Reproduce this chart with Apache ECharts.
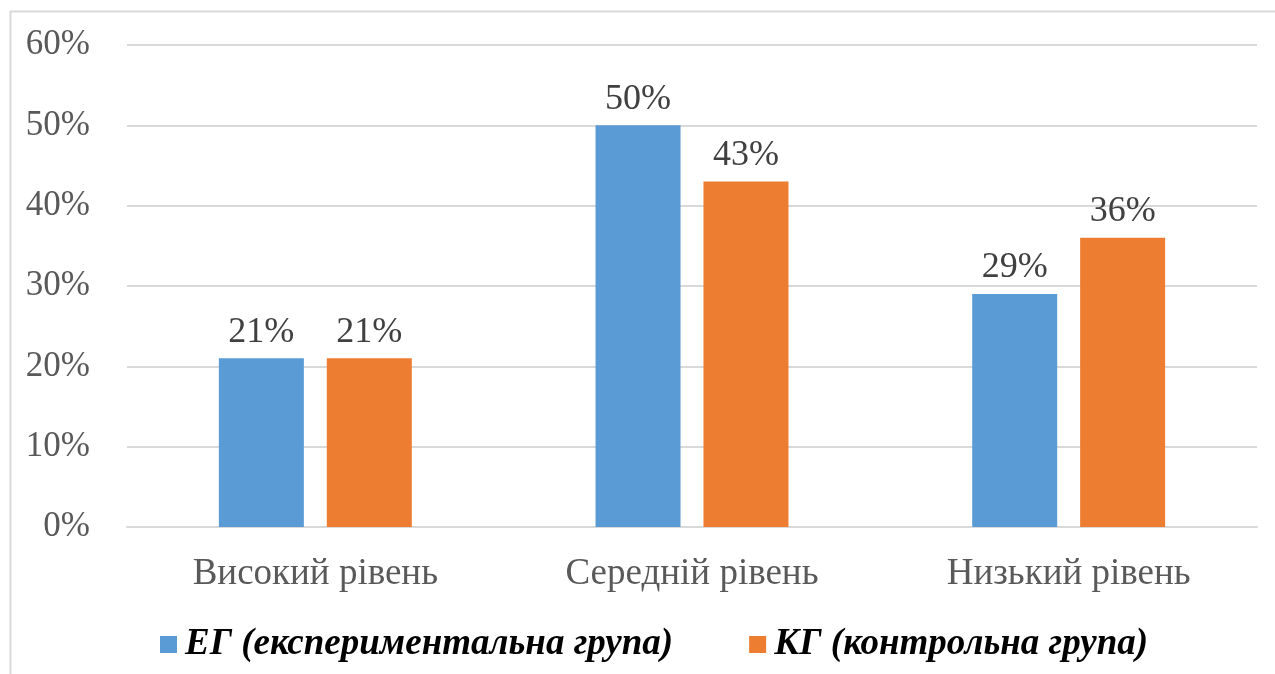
<!DOCTYPE html>
<html>
<head>
<meta charset="utf-8">
<script src="https://cdn.jsdelivr.net/npm/echarts@6/dist/echarts.min.js"></script>
<style>
  html, body { margin: 0; padding: 0; background: #fff; }
  #chart { width: 1275px; height: 674px; }
</style>
</head>
<body>
<div id="chart"></div>
<script>
// дані з діаграми
var categories = ["Високий рівень", "Середній рівень", "Низький рівень"];
var seriesNames = ["ЕГ (експериментальна група)", "КГ (контрольна група)"];
var egValues = [21, 50, 29];
var kgValues = [21, 43, 36];
var yTicks = [0, 10, 20, 30, 40, 50, 60];

var FONT = "'Liberation Serif', 'Times New Roman', serif";

var myChart = echarts.init(document.getElementById("chart"));
var option = {
  backgroundColor: "#fff",
  color: ["#5b9bd5", "#ed7d31"],
  graphic: [
    {
      type: "rect",
      left: 8,
      top: 9,
      shape: { width: 1400, height: 800 },
      style: { fill: "none", stroke: "#d9d9d9", lineWidth: 2 },
      silent: true
    }
  ],
  grid: { left: 127, right: 18, top: 45, bottom: 147 },
  legend: {
    data: seriesNames,
    left: 155,
    top: 621,
    itemWidth: 17,
    itemHeight: 17,
    itemGap: 76,
    icon: "rect",
    textStyle: {
      fontFamily: FONT,
      fontSize: 37,
      fontStyle: "italic",
      fontWeight: "bold",
      color: "#000",
      padding: [0, 0, 0, 3]
    }
  },
  xAxis: {
    type: "category",
    data: categories,
    axisLine: { lineStyle: { color: "#d9d9d9", width: 2 } },
    axisTick: { show: false },
    axisLabel: {
      fontFamily: FONT,
      fontSize: 37,
      color: "#595959",
      margin: 29
    }
  },
  yAxis: {
    type: "value",
    min: yTicks[0],
    max: yTicks[yTicks.length - 1],
    interval: 10,
    axisLine: { show: false },
    axisTick: { show: false },
    splitLine: { lineStyle: { color: "#d9d9d9", width: 2 } },
    axisLabel: {
      fontFamily: FONT,
      fontSize: 35,
      color: "#595959",
      margin: 37,
      formatter: "{value}%"
    }
  },
  series: [
    {
      name: seriesNames[0],
      type: "bar",
      data: egValues,
      barWidth: 85,
      barGap: "27%",
      label: {
        show: true,
        position: "top",
        distance: 8,
        formatter: "{c}%",
        fontFamily: FONT,
        fontSize: 36,
        color: "#404040"
      }
    },
    {
      name: seriesNames[1],
      type: "bar",
      data: kgValues,
      barWidth: 85,
      barGap: "27%",
      label: {
        show: true,
        position: "top",
        distance: 8,
        formatter: "{c}%",
        fontFamily: FONT,
        fontSize: 36,
        color: "#404040"
      }
    }
  ]
};
myChart.setOption(option);
</script>
</body>
</html>
